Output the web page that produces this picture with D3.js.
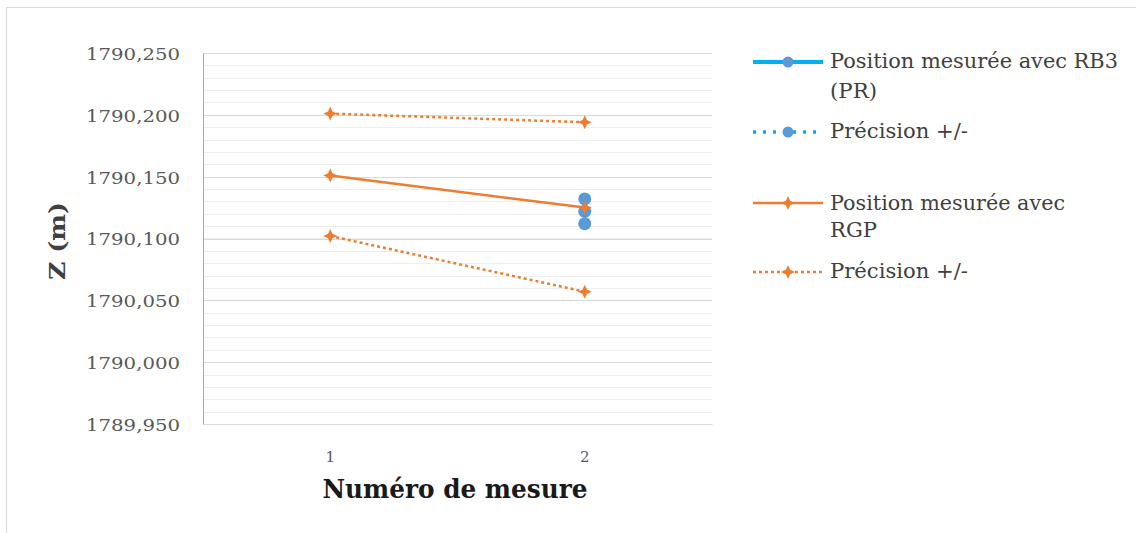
<!DOCTYPE html>
<html><head><meta charset="utf-8">
<script src="https://cdn.jsdelivr.net/npm/d3@7/dist/d3.min.js"></script>
<style>body{margin:0;background:#fff}svg{display:block}</style>
</head><body>
<svg id="c" width="1136" height="533"></svg>
<script>
const categories = ["1", "2"];
const rgpPosition = [1790.151, 1790.125];
const rgpUpper = [1790.201, 1790.194];
const rgpLower = [1790.102, 1790.057];
const rb3Position = [null, 1790.122];
const rb3Upper = [null, 1790.132];
const rb3Lower = [null, 1790.112];
const yTicks = [1789.95, 1790.0, 1790.05, 1790.1, 1790.15, 1790.2, 1790.25];
const legendLabels = [["Position mesurée avec RB3", "(PR)"], ["Précision +/-"], ["Position mesurée avec", "RGP"], ["Précision +/-"]];
const xTitle = "Numéro de mesure";
const yTitle = "Z (m)";

const svg = d3.select("#c");
const serif = "DejaVu Serif, Liberation Serif, serif";
const orange = "#ED7D31", blueLine = "#00B0F0", blueMark = "#5B9BD5";

// outer frame (top & left visible)
svg.append("line").attr("x1", 6.5).attr("x2", 1136).attr("y1", 7.5).attr("y2", 7.5).attr("stroke", "#d9d9d9");
svg.append("line").attr("x1", 6.5).attr("x2", 6.5).attr("y1", 7.5).attr("y2", 533).attr("stroke", "#d9d9d9");

const L = 203, R = 712, T = 53, B = 424;
const x = d3.scaleBand().domain(categories).range([L, R]);
const y = d3.scaleLinear().domain([1789.95, 1790.25]).range([B, T]);

// minor gridlines
const minor = d3.range(0, 31).map(i => 1789.95 + i * 0.01);
svg.append("g").selectAll("line").data(minor).join("line")
  .attr("x1", L).attr("x2", R)
  .attr("y1", d => Math.round(y(d)) + 0.5).attr("y2", d => Math.round(y(d)) + 0.5)
  .attr("stroke", "#efefef").attr("stroke-width", 1);
svg.append("g").selectAll("line").data(yTicks).join("line")
  .attr("x1", L).attr("x2", R)
  .attr("y1", d => Math.round(y(d)) + 0.5).attr("y2", d => Math.round(y(d)) + 0.5)
  .attr("stroke", "#d9d9d9").attr("stroke-width", 1);

// axes
const yAxis = d3.axisLeft(y).tickValues(yTicks).tickSize(0).tickPadding(23)
  .tickFormat(d => d3.format(".3f")(d).replace(".", ","));
const gy = svg.append("g").attr("transform", `translate(${L},0)`).call(yAxis);
gy.select(".domain").attr("stroke", "#a6a6a6");
gy.selectAll("text").attr("font-family", serif).attr("font-size", 17).attr("fill", "#595959")
  .attr("textLength", 94).attr("lengthAdjust", "spacingAndGlyphs").attr("dy", "0.38em");

const xAxis = d3.axisBottom(x).tickSize(0).tickPadding(0);
const gx = svg.append("g").attr("transform", `translate(0,${B})`).call(xAxis);
gx.select(".domain").attr("stroke", "#d9d9d9");
gx.selectAll("text").attr("font-family", serif).attr("font-size", 15).attr("fill", "#595959")
  .attr("dy", null).attr("y", 38);

// titles
svg.append("text").attr("x", 455).attr("y", 498).attr("text-anchor", "middle")
  .attr("font-family", serif).attr("font-weight", "bold").attr("font-size", 26).attr("fill", "#1a1a1a")
  .attr("textLength", 265).attr("lengthAdjust", "spacingAndGlyphs").text(xTitle);
svg.append("text").attr("transform", `translate(65,241) rotate(-90)`).attr("text-anchor", "middle")
  .attr("font-family", serif).attr("font-weight", "bold").attr("font-size", 23).attr("fill", "#404040")
  .attr("textLength", 78).attr("lengthAdjust", "spacingAndGlyphs").text(yTitle);

const cx = d => x(d) + x.bandwidth() / 2;
const star = "M0,-7 L2.2,-2.2 L7,0 L2.2,2.2 L0,7 L-2.2,2.2 L-7,0 L-2.2,-2.2 Z";

function series(vals, color, dash, width, marker, mcolor) {
  const pts = categories.map((c, i) => ({c, v: vals[i]})).filter(p => p.v != null);
  const line = d3.line().x(p => cx(p.c)).y(p => y(p.v));
  if (pts.length > 1) svg.append("path").attr("d", line(pts)).attr("fill", "none")
    .attr("stroke", color).attr("stroke-width", width).attr("stroke-dasharray", dash);
  const g = svg.append("g");
  pts.forEach(p => {
    if (marker === "circle") g.append("circle").attr("cx", cx(p.c)).attr("cy", y(p.v)).attr("r", 6.5).attr("fill", mcolor);
    else g.append("path").attr("transform", `translate(${cx(p.c)},${y(p.v)})`).attr("d", star).attr("fill", mcolor);
  });
}
series(rb3Upper, blueLine, "2,5", 3, "circle", blueMark);
series(rb3Lower, blueLine, "2,5", 3, "circle", blueMark);
series(rb3Position, blueLine, null, 4, "circle", blueMark);
series(rgpUpper, orange, "3,3", 2.5, "star", orange);
series(rgpLower, orange, "3,3", 2.5, "star", orange);
series(rgpPosition, orange, null, 2.5, "star", orange);

// legend
const legendLineY = [62, 132, 203, 272];
const legendBase = [[68, 98], [138], [210, 237], [278]];
const legendWidths = [[288, 47], [138], [235, 47], [138]];
const lstyles = [
  {c: blueLine, d: null, w: 4, m: "circle"},
  {c: blueLine, d: "3,7", w: 3.5, m: "circle"},
  {c: orange, d: null, w: 2.5, m: "star"},
  {c: orange, d: "3,3", w: 2.5, m: "star"}
];
legendLabels.forEach((lab, i) => {
  const g = svg.append("g");
  const s = lstyles[i], ly = legendLineY[i];
  g.append("line").attr("x1", 753).attr("x2", 823).attr("y1", ly).attr("y2", ly)
    .attr("stroke", s.c).attr("stroke-width", s.w).attr("stroke-dasharray", s.d);
  if (s.m === "circle") g.append("circle").attr("cx", 788).attr("cy", ly).attr("r", 5.5).attr("fill", blueMark);
  else g.append("path").attr("transform", `translate(788,${ly})`).attr("d", star).attr("fill", orange);
  lab.forEach((t, j) => g.append("text").attr("x", 830).attr("y", legendBase[i][j])
    .attr("font-family", serif).attr("font-size", 21).attr("fill", "#404040")
    .attr("textLength", legendWidths[i][j]).attr("lengthAdjust", "spacingAndGlyphs").text(t));
});
</script>
</body></html>
